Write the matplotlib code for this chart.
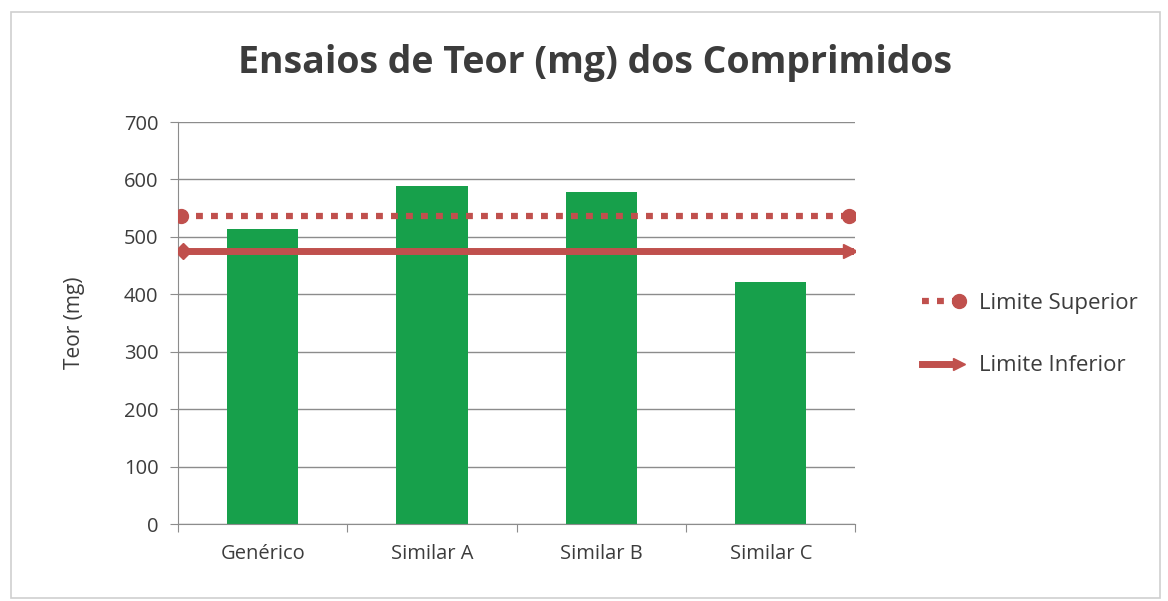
import matplotlib
matplotlib.use("Agg")
import matplotlib.pyplot as plt
from matplotlib.lines import Line2D
from matplotlib.patches import Rectangle
from matplotlib.legend_handler import HandlerLine2D

categories = ["Genérico", "Similar A", "Similar B", "Similar C"]
teor = [513, 588, 579, 422]
limite_superior = 537
limite_inferior = 476

plt.rcParams['font.family'] = ['Open Sans', 'DejaVu Sans']

green = '#17a04b'
red = '#c0504d'
grid_c = '#8c8c8c'
txt = '#3c3c3c'


class EndMarker(HandlerLine2D):
    # line over the whole handle, marker only at its right end
    def create_artists(self, legend, orig_handle, xdescent, ydescent, width, height,
                       fontsize, trans):
        y = (height - ydescent) / 2
        line = Line2D([-xdescent, -xdescent + width - 4], [y, y])
        line.update_from(orig_handle)
        line.set_marker('None')
        mk = Line2D([-xdescent + width], [y], linestyle='none',
                    marker=orig_handle.get_marker(),
                    markersize=orig_handle.get_markersize(),
                    color=orig_handle.get_color())
        line.set_transform(trans)
        mk.set_transform(trans)
        return [line, mk]


fig = plt.figure(figsize=(11.68, 6.01), dpi=100)
fig.patches.append(Rectangle((0.009, 0.005), 0.984, 0.975, transform=fig.transFigure,
                             fill=False, edgecolor='#cfcfcf', linewidth=1.2))
ax = fig.add_axes([0.1524, 0.128, 0.580, 0.669])

x = list(range(len(categories)))
ax.bar(x, teor, width=0.42, color=green, zorder=2)

x0, x1 = -0.5, len(categories) - 0.5
ax.plot([x0 + 0.02, x1 - 0.04], [limite_superior] * 2, color=red, linewidth=4.5,
        linestyle=(0, (1.1, 1.3)), zorder=3)
ax.plot([x0 + 0.02, x1 - 0.04], [limite_superior] * 2, color=red, linestyle='none',
        marker='o', markersize=10, zorder=4)
ax.plot([x0 + 0.03, x1 - 0.03], [limite_inferior] * 2, color=red, linewidth=5, zorder=3)
ax.plot([x0 + 0.03], [limite_inferior], color=red, marker='D', markersize=8, zorder=4)
ax.plot([x1 - 0.03], [limite_inferior], color=red, marker='>', markersize=10, zorder=4)

ax.set_xlim(x0, x1)
ax.set_ylim(0, 700)
ax.set_yticks(range(0, 701, 100))
ax.grid(axis='y', color=grid_c, linewidth=1, zorder=0)
ax.set_axisbelow(True)

ax.set_xticks([i - 0.5 for i in range(len(categories) + 1)])
ax.set_xticklabels([])
ax.set_xticks(x, minor=True)
ax.set_xticklabels(categories, minor=True)
ax.tick_params(axis='x', which='major', length=6, color=grid_c)
ax.tick_params(axis='x', which='minor', length=0, pad=14, labelsize=14.5, labelcolor=txt)
ax.tick_params(axis='y', length=6, color=grid_c, labelsize=14.5, labelcolor=txt, pad=8)

for s in ['top', 'right']:
    ax.spines[s].set_visible(False)
for s in ['left', 'bottom']:
    ax.spines[s].set_color(grid_c)

ax.set_ylabel("Teor (mg)", fontsize=15, color=txt, labelpad=28)

fig.text(0.509, 0.895, "Ensaios de Teor (mg) dos Comprimidos", ha='center', va='center',
         fontsize=27, fontweight='bold', color='#3c3c3c')

h_sup = Line2D([0], [0], color=red, linewidth=4.5, linestyle=(0, (1.1, 1.3)),
               marker='o', markersize=10)
h_inf = Line2D([0], [0], color=red, linewidth=5, marker='>', markersize=9)
fig.legend([h_sup, h_inf], ["Limite Superior", "Limite Inferior"], loc='center left',
           bbox_to_anchor=(0.772, 0.443), frameon=False, fontsize=16, labelcolor=txt,
           handlelength=1.7, handletextpad=0.9, labelspacing=1.85,
           handler_map={h_sup: EndMarker(), h_inf: EndMarker()})

fig.savefig("out.png", dpi=100)
